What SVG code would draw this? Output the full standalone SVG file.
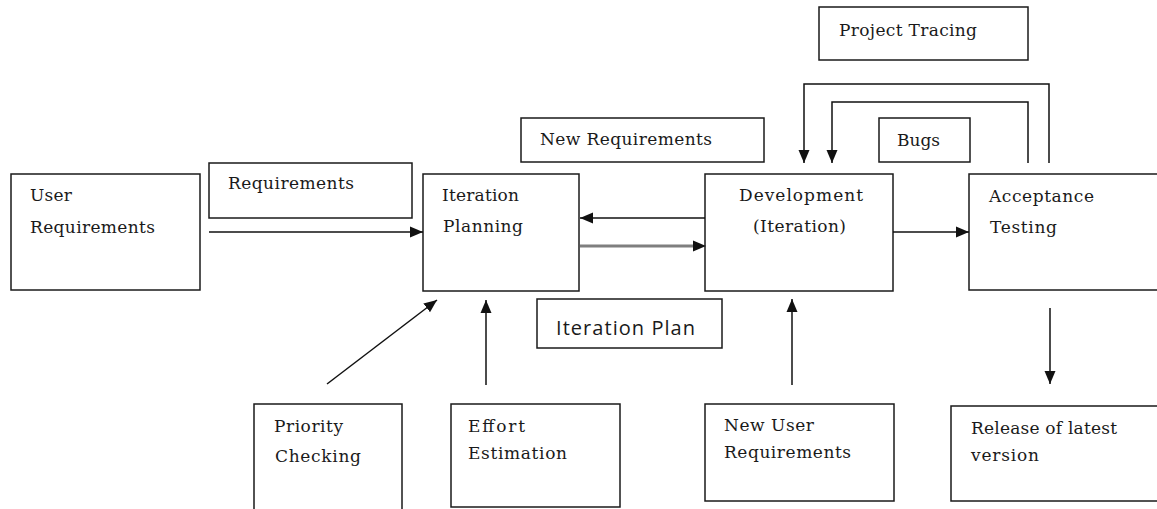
<svg xmlns="http://www.w3.org/2000/svg" width="1157" height="509" viewBox="0 0 1157 509">
<defs>
<style>
.box{fill:#fff;stroke:#1a1a1a;stroke-width:1.5}
.t{font-family:"DejaVu Serif","Liberation Serif",serif;font-size:17px;fill:#1a1a1a}
.s{font-family:"Open Sans","Liberation Sans",sans-serif;font-size:20px;fill:#1a1a1a}
.ln{fill:none;stroke:#111;stroke-width:1.5}
.gr{fill:none;stroke:#7f7f7f;stroke-width:3}
</style>
<marker id="ah" markerUnits="userSpaceOnUse" markerWidth="14" markerHeight="14" viewBox="0 0 14 14" refX="13" refY="7" orient="auto">
<path d="M0,1.5 L13,7 L0,12.5 Z" fill="#111"/>
</marker>
</defs>
<rect width="1157" height="509" fill="#fff"/>

<g id="user-requirements"><rect class="box" x="11" y="174" width="189" height="116"/><text class="t" x="30" y="201" textLength="42">User</text><text class="t" x="30" y="233" textLength="125">Requirements</text></g>
<g id="requirements-label"><rect class="box" x="209" y="163" width="203" height="55"/><text class="t" x="228" y="189" textLength="126">Requirements</text></g>
<g id="iteration-planning"><rect class="box" x="423" y="174" width="156" height="117"/><text class="t" x="442" y="201" textLength="77">Iteration</text><text class="t" x="443" y="232" textLength="80">Planning</text></g>
<g id="new-requirements"><rect class="box" x="521" y="118" width="243" height="44"/><text class="t" x="540" y="145" textLength="172">New Requirements</text></g>
<g id="iteration-plan"><rect class="box" x="537" y="299" width="185" height="49"/><text class="s" x="556" y="335" textLength="139">Iteration Plan</text></g>
<g id="development"><rect class="box" x="705" y="174" width="188" height="117"/><text class="t" x="739" y="201" textLength="124">Development</text><text class="t" x="753" y="232" textLength="93">(Iteration)</text></g>
<g id="project-tracing"><rect class="box" x="819" y="7" width="209" height="53"/><text class="t" x="839" y="36" textLength="138">Project Tracing</text></g>
<g id="bugs"><rect class="box" x="879" y="118" width="91" height="44"/><text class="t" x="897" y="146" textLength="43">Bugs</text></g>
<g id="acceptance-testing"><rect class="box" x="969" y="174" width="200" height="116"/><text class="t" x="989" y="202" textLength="105">Acceptance</text><text class="t" x="990" y="233" textLength="67">Testing</text></g>
<g id="priority-checking"><rect class="box" x="254" y="404" width="148" height="120"/><text class="t" x="274" y="432" textLength="69">Priority</text><text class="t" x="275" y="462" textLength="86">Checking</text></g>
<g id="effort-estimation"><rect class="box" x="451" y="404" width="169" height="103"/><text class="t" x="468" y="432" textLength="57">Effort</text><text class="t" x="468" y="459" textLength="99">Estimation</text></g>
<g id="new-user-requirements"><rect class="box" x="705" y="404" width="189" height="97"/><text class="t" x="724" y="431" textLength="90">New User</text><text class="t" x="724" y="458" textLength="127">Requirements</text></g>
<g id="release"><rect class="box" x="951" y="406" width="220" height="95"/><text class="t" x="971" y="434" textLength="146">Release of latest</text><text class="t" x="971" y="461" textLength="68">version</text></g>

<g id="connectors">
<line class="ln" x1="209" y1="232" x2="423" y2="232" marker-end="url(#ah)"/>
<line class="ln" x1="705" y1="218" x2="580" y2="218" marker-end="url(#ah)"/>
<line class="gr" x1="580" y1="246" x2="694" y2="246"/>
<path d="M693,240.5 L706,246 L693,251.5 Z" fill="#111"/>
<line class="ln" x1="893" y1="232" x2="969" y2="232" marker-end="url(#ah)"/>
<polyline class="ln" points="1049,163 1049,84 804,84 804,163" marker-end="url(#ah)"/>
<polyline class="ln" points="1028,163 1028,102 832,102 832,163" marker-end="url(#ah)"/>
<line class="ln" x1="327" y1="384" x2="437" y2="300" marker-end="url(#ah)"/>
<line class="ln" x1="486" y1="385" x2="486" y2="300" marker-end="url(#ah)"/>
<line class="ln" x1="792" y1="385" x2="792" y2="299" marker-end="url(#ah)"/>
<line class="ln" x1="1050" y1="308" x2="1050" y2="384" marker-end="url(#ah)"/>
</g>
</svg>
